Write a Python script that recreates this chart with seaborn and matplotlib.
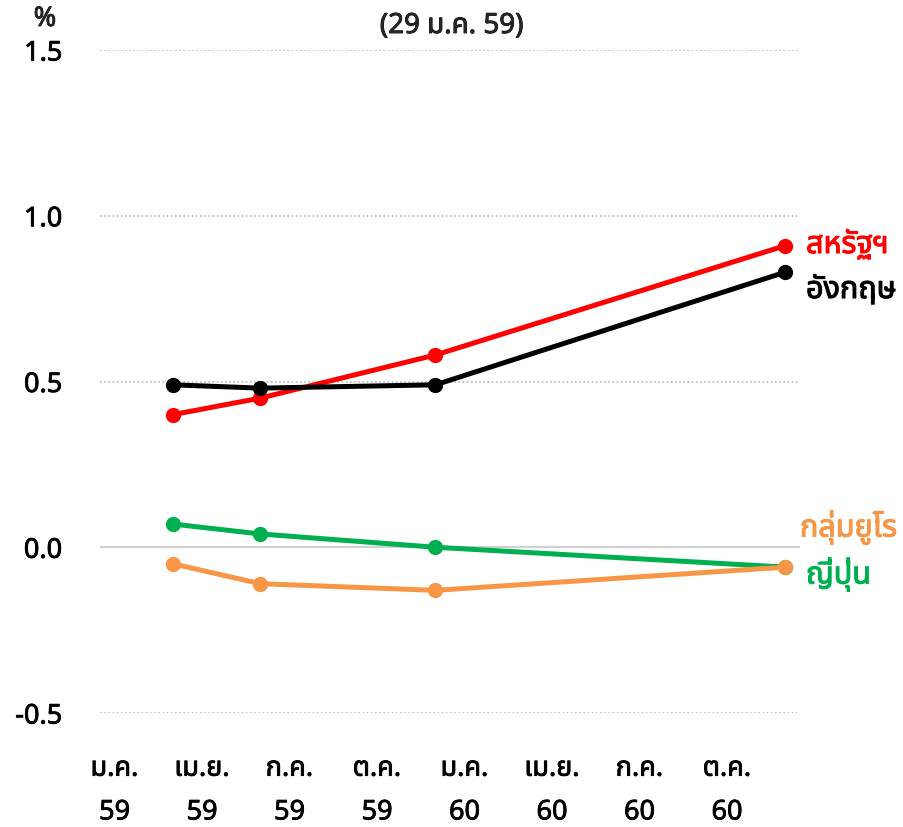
import matplotlib
matplotlib.use("Agg")
import matplotlib.pyplot as plt
import matplotlib.patheffects as pe
from matplotlib import font_manager
from matplotlib.ft2font import FT2Font
import seaborn as sns
import pandas as pd

# Series values: implied policy rate path (%), by month offset from Jan 2559
horizon_month = [2, 5, 11, 23]
us = [0.40, 0.45, 0.58, 0.91]
uk = [0.49, 0.48, 0.49, 0.83]
euro = [-0.05, -0.11, -0.13, -0.06]
japan = [0.07, 0.04, 0.00, -0.06]

series_names = ["สหรัฐฯ", "อังกฤษ", "ญี่ปุ่น", "กลุ่มยูโร"]
series_values = [us, uk, japan, euro]
series_colors = ["#FF0000", "#000000", "#00B050", "#F79646"]

tick_months = [0, 3, 6, 9, 12, 15, 18, 21]
tick_labels = ["ม.ค.\n59", "เม.ย.\n59", "ก.ค.\n59", "ต.ค.\n59",
               "ม.ค.\n60", "เม.ย.\n60", "ก.ค.\n60", "ต.ค.\n60"]
y_ticks = [-0.5, 0.0, 0.5, 1.0, 1.5]
title_text = "(29 ม.ค. 59)"


def find_thai_font():
    preferred = ["Noto Sans Thai", "Noto Sans Thai UI", "Loma", "Garuda", "Sarabun",
                 "Kinnari", "Norasi", "Umpush", "Waree", "Laksaman", "Tlwg Typo"]
    found = {}
    for entry in font_manager.fontManager.ttflist:
        try:
            cmap = FT2Font(entry.fname).get_charmap()
        except Exception:
            continue
        if 0x0E2A in cmap and 0x0E21 in cmap:
            found.setdefault(entry.name, entry.fname)
    for name in preferred:
        if name in found:
            return name
    return next(iter(found), None)


def heavy(color, width=0.6):
    # thicken glyph strokes a little (the Thai face ships in a single regular weight)
    return [pe.withStroke(linewidth=width, foreground=color)]


sns.set_theme(style="white")
thai = find_thai_font()
families = [thai, "DejaVu Sans"] if thai else ["DejaVu Sans"]
plt.rcParams["font.family"] = families

df = pd.DataFrame({
    "month": horizon_month * len(series_names),
    "rate": [v for vals in series_values for v in vals],
    "series": [n for n in series_names for _ in horizon_month],
})

fig = plt.figure(figsize=(9.04, 8.27), dpi=100)
ax = fig.add_axes([100 / 904, 1 - 713 / 827, 700 / 904, 663 / 827])

for yv in y_ticks:
    if yv == 0:
        ax.axhline(yv, color="#d0d0d0", lw=1.5, zorder=1)
    else:
        ax.axhline(yv, color="#b8b8b8", lw=1.2, ls=(0, (1, 1.5)), zorder=1)

sns.lineplot(data=df, x="month", y="rate", hue="series", hue_order=series_names,
             palette=series_colors, marker="o", markersize=11, markeredgewidth=0,
             linewidth=3.6, legend=False, ax=ax, sort=False)

ax.set_xlim(-0.5, 23.5)
ax.set_ylim(-0.5, 1.5)
ax.set_xticks(tick_months)
ax.set_xticklabels(tick_labels, linespacing=1.75)
ax.set_yticks(y_ticks)
ax.set_yticklabels([f"{v:.1f}" for v in y_ticks])
ax.tick_params(axis="both", length=0, labelsize=19.5, colors="black")
ax.tick_params(axis="x", pad=30)
ax.tick_params(axis="y", pad=27)
for lab in ax.get_xticklabels() + ax.get_yticklabels():
    lab.set_path_effects(heavy("black"))
ax.set_xlabel("")
ax.set_ylabel("")
for s in ax.spines.values():
    s.set_visible(False)

fig.text(45 / 904, 1 - 19 / 827, "%", ha="center", va="center", fontsize=19.5,
         path_effects=heavy("black"))
fig.text(452 / 904, 1 - 26 / 827, title_text, ha="center", va="center", fontsize=20,
         path_effects=heavy("black"))

label_pos = {"สหรัฐฯ": (806, 245), "อังกฤษ": (806, 290),
             "กลุ่มยูโร": (800, 528), "ญี่ปุ่น": (806, 575)}
for name, color in zip(series_names, series_colors):
    px, py = label_pos[name]
    fig.text(px / 904, 1 - py / 827, name, color=color, ha="left", va="center",
             fontsize=22, path_effects=heavy(color, 0.8))

fig.savefig("out.png", dpi=100)
